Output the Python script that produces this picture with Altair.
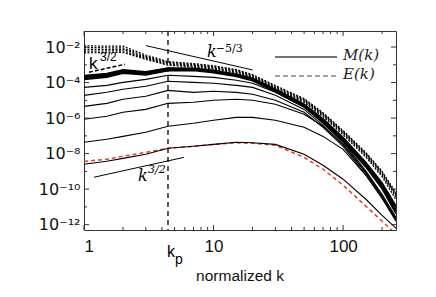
import altair as alt
import pandas as pd

# wavenumber nodes (normalized k)
K = [1, 1.5, 2, 3, 4.45, 7, 10, 15, 20, 30, 50, 70, 100, 150, 200, 256]

# log10 of spectra
M_thin = {
    "C1": [-8.60, -8.43, -8.27, -8.04, -7.70, -7.59, -7.48, -7.36, -7.39, -7.48, -8.04, -8.66, -9.44, -10.57, -11.48, -12.20],
    "C2": [-7.36, -7.19, -7.03, -6.80, -6.46, -6.29, -6.12, -5.96, -5.96, -6.12, -6.52, -7.03, -7.76, -9.22, -10.51, -11.81],
    "C3": [-6.07, -5.90, -5.67, -5.51, -5.17, -5.11, -5.00, -4.94, -5.00, -5.22, -5.79, -6.46, -7.48, -9.05, -10.40, -11.70],
    "C4": [-5.34, -5.17, -4.94, -4.77, -4.44, -4.55, -4.49, -4.55, -4.66, -5.00, -5.67, -6.52, -7.59, -9.22, -10.51, -11.76],
    "C5": [-4.72, -4.55, -4.38, -4.21, -3.93, -3.99, -4.04, -4.16, -4.27, -4.72, -5.51, -6.41, -7.48, -9.11, -10.40, -11.70],
    "C6": [-4.27, -4.16, -3.99, -3.82, -3.59, -3.65, -3.71, -3.87, -4.04, -4.55, -5.39, -6.29, -7.36, -8.99, -10.29, -11.59],
}
M_band = {
    "B1": [-3.60, -3.49, -3.28, -3.40, -3.18, -3.19, -3.31, -3.53, -3.76, -4.38, -5.22, -6.05, -7.10, -8.50, -9.65, -10.95],
    "B2": [-3.66, -3.54, -3.32, -3.44, -3.21, -3.22, -3.34, -3.56, -3.79, -4.41, -5.25, -6.09, -7.15, -8.56, -9.72, -11.05],
    "B3": [-3.71, -3.59, -3.37, -3.48, -3.25, -3.25, -3.37, -3.59, -3.82, -4.44, -5.28, -6.12, -7.19, -8.60, -9.78, -11.13],
    "B4": [-3.77, -3.64, -3.42, -3.53, -3.29, -3.28, -3.40, -3.62, -3.86, -4.48, -5.32, -6.17, -7.25, -8.68, -9.88, -11.25],
    "B5": [-3.83, -3.70, -3.47, -3.57, -3.33, -3.32, -3.44, -3.66, -3.90, -4.52, -5.36, -6.22, -7.31, -8.76, -9.98, -11.38],
}
E_band = {
    "E1": [-1.93, -1.95, -1.95, -2.45, -2.82, -2.93, -3.05, -3.27, -3.55, -4.17, -4.90, -5.70, -6.70, -7.94, -9.00, -10.20],
    "E2": [-2.03, -2.04, -2.05, -2.52, -2.87, -2.98, -3.10, -3.32, -3.60, -4.22, -4.95, -5.75, -6.76, -8.00, -9.06, -10.30],
    "E3": [-2.13, -2.13, -2.13, -2.58, -2.92, -3.03, -3.14, -3.37, -3.65, -4.27, -5.00, -5.79, -6.80, -8.04, -9.11, -10.35],
    "E4": [-2.23, -2.22, -2.21, -2.64, -2.97, -3.08, -3.19, -3.42, -3.70, -4.32, -5.05, -5.85, -6.86, -8.12, -9.20, -10.45],
    "E5": [-2.33, -2.31, -2.30, -2.70, -3.02, -3.13, -3.24, -3.47, -3.75, -4.38, -5.11, -5.92, -6.94, -8.20, -9.30, -10.60],
}
E_red = {
    "R1": [-8.43, -8.32, -8.15, -7.93, -7.70, -7.59, -7.48, -7.39, -7.42, -7.53, -8.21, -8.88, -9.78, -10.96, -11.81, -12.54],
}

# reference power laws: (k0, k1, log10 v0, log10 v1)
slope_53 = [3.0, 20.0, -1.92, -3.29]
slope_32_top = [1.093, 2.07, -3.42, -2.97]
slope_32_bot = [1.194, 5.91, -9.33, -8.21]
k_p = 4.45

x_major = [1, 10, 100]
x_minor = [2, 3, 4, 5, 6, 7, 8, 9, 20, 30, 40, 50, 60, 70, 80, 90, 200]
y_major = [1e-2, 1e-4, 1e-6, 1e-8, 1e-10, 1e-12]
y_minor = [1e-3, 1e-5, 1e-7, 1e-9, 1e-11]
y_labels = ["10⁻²", "10⁻⁴", "10⁻⁶", "10⁻⁸", "10⁻¹⁰", "10⁻¹²"]


def frame(d):
    rows = []
    for name, vals in d.items():
        for k, lv in zip(K, vals):
            rows.append({"k": k, "v": 10 ** lv, "curve": name})
    return pd.DataFrame(rows)


W, H = 312, 199
xs = alt.Scale(type="log", domain=[1, 256], nice=False)
ys = alt.Scale(type="log", domain=[5e-13, 8e-2], nice=False)

label_expr = " : ".join(
    f"datum.value > {v * 0.5} && datum.value < {v * 2} ? '{t}'" for v, t in zip(y_major, y_labels)
) + " : ''"

xaxis = alt.Axis(values=x_major, labelExpr="'' + datum.value", title=None, ticks=False,
                 domain=False, grid=False, labelFont="Liberation Sans", labelFontSize=17,
                 labelColor="#111", labelPadding=8)
yaxis = alt.Axis(values=y_major, labelExpr=label_expr, title=None, ticks=False,
                 domain=False, grid=False, labelFont="DejaVu Sans", labelFontSize=16,
                 labelColor="#111", labelPadding=4)

X = alt.X("k:Q", scale=xs, axis=xaxis)
Y = alt.Y("v:Q", scale=ys, axis=yaxis)

thin = alt.Chart(frame(M_thin)).mark_line(color="black", strokeWidth=1.1, clip=True).encode(
    x=X, y=Y, detail="curve:N")
band = alt.Chart(frame(M_band)).mark_line(color="black", strokeWidth=1.6, clip=True).encode(
    x=X, y=Y, detail="curve:N")
eband = alt.Chart(frame(E_band)).mark_line(color="black", strokeWidth=1.2, strokeDash=[2, 1.5], clip=True).encode(
    x=X, y=Y, detail="curve:N")
ered = alt.Chart(frame(E_red)).mark_line(color="#e8402a", strokeWidth=1.5, strokeDash=[4, 3], clip=True).encode(
    x=X, y=Y, detail="curve:N")


def seg(p):
    return pd.DataFrame({"k": [p[0], p[1]], "v": [10 ** p[2], 10 ** p[3]]})


l53 = alt.Chart(seg(slope_53)).mark_line(color="black", strokeWidth=1).encode(x=X, y=Y)
l32b = alt.Chart(seg(slope_32_bot)).mark_line(color="black", strokeWidth=1).encode(x=X, y=Y)
l32t = alt.Chart(seg(slope_32_top)).mark_line(color="black", strokeWidth=1.5, strokeDash=[4, 2]).encode(x=X, y=Y)

kp_line = alt.Chart(pd.DataFrame({"k": [k_p]})).mark_rule(color="black", strokeWidth=1.3, strokeDash=[5, 4]).encode(x=X)

# inward ticks on all four sides
tc = "#333"
ticks = []
for vals, ln in ((x_major, 5), (x_minor, 3)):
    df = pd.DataFrame({"k": vals})
    ticks.append(alt.Chart(df).mark_rule(color=tc, strokeWidth=1).encode(x=X, y=alt.value(H), y2=alt.value(H - ln)))
    ticks.append(alt.Chart(df).mark_rule(color=tc, strokeWidth=1).encode(x=X, y=alt.value(0), y2=alt.value(ln)))
for vals, ln in ((y_major, 5), (y_minor, 3)):
    df = pd.DataFrame({"v": vals})
    ticks.append(alt.Chart(df).mark_rule(color=tc, strokeWidth=1).encode(y=Y, x=alt.value(0), x2=alt.value(ln)))
    ticks.append(alt.Chart(df).mark_rule(color=tc, strokeWidth=1).encode(y=Y, x=alt.value(W), x2=alt.value(W - ln)))

one = pd.DataFrame({"a": [0]})


def txt(k, lv, s, size, font="DejaVu Serif", style="italic"):
    return alt.Chart(pd.DataFrame({"k": [k], "v": [10 ** lv]})).mark_text(
        text=s, font=font, fontStyle=style, fontSize=size, align="left", baseline="alphabetic",
        color="black").encode(x=X, y=Y)


texts = [
    txt(8.9, -2.58, "k", 16),
    txt(10.4, -2.26, "−5/3", 11, style="normal"),
    txt(1.093, -3.25, "k", 17, font="Liberation Sans", style="normal"),
    txt(1.329, -2.76, "3/2", 12, font="Liberation Sans", style="normal"),
    txt(2.61, -9.56, "k", 16),
    txt(3.12, -9.07, "3/2", 11),
]

kp_k = alt.Chart(pd.DataFrame({"k": [k_p]})).mark_text(
    text="k", font="Liberation Sans", fontSize=16, align="center", baseline="alphabetic", dx=3,
    color="black").encode(x=X, y=alt.value(H + 27))
kp_p = alt.Chart(pd.DataFrame({"k": [k_p]})).mark_text(
    text="p", font="Liberation Sans", fontSize=14, align="center", baseline="alphabetic", dx=11,
    color="black").encode(x=X, y=alt.value(H + 34))

xtitle = alt.Chart(one).mark_text(text="normalized k", font="Liberation Sans", fontSize=15.5,
                                  align="center", baseline="middle", color="#111").encode(
    x=alt.value(W / 2), y=alt.value(H + 46))

leg = [
    alt.Chart(one).mark_rule(color="#444", strokeWidth=1.3).encode(x=alt.value(191), x2=alt.value(253), y=alt.value(26)),
    alt.Chart(one).mark_rule(color="#888", strokeWidth=1.3, strokeDash=[5, 3]).encode(x=alt.value(191), x2=alt.value(253), y=alt.value(45)),
    alt.Chart(one).mark_text(text="M(k)", font="DejaVu Serif", fontStyle="italic", fontSize=15,
                             align="left", baseline="middle", color="#222").encode(x=alt.value(259), y=alt.value(24)),
    alt.Chart(one).mark_text(text="E(k)", font="DejaVu Serif", fontStyle="italic", fontSize=15,
                             align="left", baseline="middle", color="#222").encode(x=alt.value(259), y=alt.value(43)),
]

chart = alt.layer(
    ered, thin, band, eband, l53, l32b, l32t, kp_line, *ticks, *texts, kp_k, kp_p, xtitle, *leg
).properties(
    width=W, height=H,
    autosize=alt.AutoSizeParams(type="none"),
    padding={"left": 76, "top": 23, "right": 30, "bottom": 58},
    background="white",
).configure_view(stroke="#333", strokeWidth=1)

chart.save("out.html", embed_options={"renderer": "svg", "actions": False})
